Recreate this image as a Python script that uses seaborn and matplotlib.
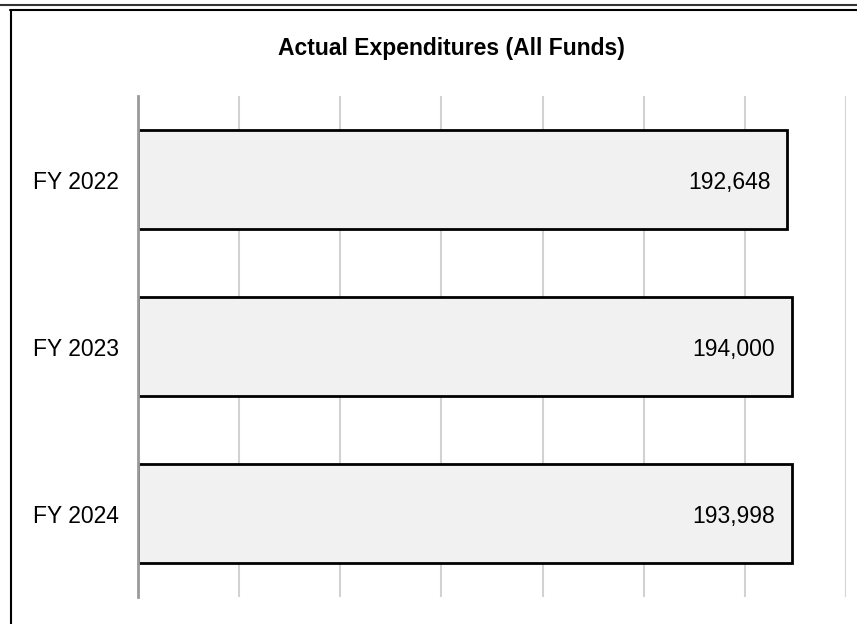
import matplotlib
matplotlib.use("Agg")
import matplotlib.pyplot as plt
import seaborn as sns
import pandas as pd

# chart data
years = ["FY 2022", "FY 2023", "FY 2024"]
spend = [192648, 194000, 193998]
grid_ticks = [0, 30000, 60000, 90000, 120000, 150000, 180000, 210000]

df = pd.DataFrame({"year": years, "spend": spend})

sns.set_style("white")
plt.rcParams["font.family"] = ["Liberation Sans", "DejaVu Sans"]
plt.rcParams["text.color"] = "black"

W, H = 857, 624
fig = plt.figure(figsize=(W / 100, H / 100), dpi=100)

# plot area in pixels: x 138..846, y 96..597
ax = fig.add_axes([138 / W, 1 - 597 / H, (846 - 138) / W, (597 - 96) / H])

sns.barplot(data=df, x="spend", y="year", orient="h", ax=ax,
            color="#f1f1f1", saturation=1, edgecolor="black",
            linewidth=2, width=0.587)

ax.set_xlim(0, 210000)
ax.set_ylim(2.5, -0.5)
ax.set_xticks(grid_ticks)
ax.set_xticklabels([])
ax.set_axisbelow(True)
ax.xaxis.grid(True, color="#d2d2d2", lw=1.5)
ax.yaxis.grid(False)
ax.set_xlabel("")
ax.set_ylabel("")
ax.tick_params(axis="both", length=0)
ax.tick_params(axis="y", labelsize=16.5, pad=13.5, labelcolor="black")

for s in ["top", "right", "bottom"]:
    ax.spines[s].set_visible(False)
ax.spines["left"].set_color("#9a9a9a")
ax.spines["left"].set_linewidth(2)
ax.spines["left"].set_zorder(5)

# value labels inside the bar ends
for i, v in enumerate(spend):
    ax.annotate(f"{v:,}", xy=(v, i), xytext=(-17, 0), textcoords="offset pixels",
                ha="right", va="center_baseline", fontsize=16.5, color="black")

fig.text(451 / W, 1 - 48 / H, "Actual Expenditures (All Funds)",
         ha="center", va="center", fontsize=16.5, fontweight="bold", color="black")

# page frame lines
fig.add_artist(plt.Line2D([0, 1], [1 - 5 / H, 1 - 5 / H], color="#333333", lw=1.5,
                          transform=fig.transFigure))
fig.add_artist(plt.Line2D([10 / W, 1], [1 - 9.5 / H, 1 - 9.5 / H], color="black", lw=1.5,
                          transform=fig.transFigure))
fig.add_artist(plt.Line2D([11 / W, 11 / W], [0, 1 - 9.5 / H], color="black", lw=1.5,
                          transform=fig.transFigure))

fig.savefig("out.png", dpi=100)
